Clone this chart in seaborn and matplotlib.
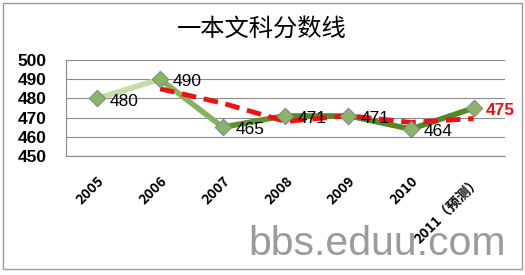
import matplotlib
matplotlib.use("Agg")
import matplotlib.pyplot as plt
import seaborn as sns
import pandas as pd
import numpy as np
from matplotlib.patches import Rectangle

years = ["2005", "2006", "2007", "2008", "2009", "2010", "2011（预测）"]
scores = [480, 490, 465, 471, 471, 464, 475]
trend = [np.nan, 485, 477.5, 468, 471, 467.5, 469.5]
yticks = [450, 460, 470, 480, 490, 500]
title = "一本文科分数线"
watermark = "bbs.eduu.com"

sns.set_theme(style="white")
plt.rcParams['font.family'] = ['Noto Sans CJK SC', 'DejaVu Sans']

df = pd.DataFrame({"year": years, "score": scores, "trend": trend})
df["x"] = np.arange(len(years))

fig = plt.figure(figsize=(5.25, 2.75), dpi=100)
fig.patch.set_facecolor("white")
# chart border
fig.patches.append(Rectangle((3/525, 1 - 269/275), (522-3)/525, (269-3)/275,
                             transform=fig.transFigure, fill=False,
                             edgecolor="#9a9a9a", linewidth=1.0))

ax = fig.add_axes([66/525, 1 - 156/275, (505-66)/525, (156-60)/275])

# segment colours (light to dark green)
seg_colors = ["#c6dba6", "#86b260", "#5a9434", "#4f8a2a", "#4f8a2a", "#4f8a2a"]
for i in range(len(years) - 1):
    seg = df.iloc[i:i+2]
    sns.lineplot(data=seg, x="x", y="score", ax=ax, color=seg_colors[i],
                 linewidth=4, legend=False, zorder=2)

sns.lineplot(data=df.dropna(), x="x", y="trend", ax=ax, color="#ee1111",
             linewidth=3.5, linestyle=(0, (3, 1.6)), legend=False, zorder=3)

sns.scatterplot(data=df, x="x", y="score", ax=ax, marker="D", s=70,
                color="#8db36a", edgecolor="#7f8f78", linewidth=0.8,
                zorder=4, legend=False)

for i, (xv, yv) in enumerate(zip(df["x"], df["score"])):
    last = i == len(years) - 1
    ax.annotate(str(yv), (xv, yv), xytext=(9, -2), textcoords="offset points",
                ha="left", va="center", fontsize=12.5,
                color="#ee1111" if last else "black",
                family=["Liberation Sans", "DejaVu Sans"],
                fontweight="bold" if last else "normal", zorder=5)

ax.set_xlim(-0.5, len(years) - 0.5)
ax.set_ylim(450, 500)
ax.set_yticks(yticks)
ax.set_yticklabels([str(t) for t in yticks], fontsize=12.5, fontweight="bold",
                   family=["Liberation Sans", "DejaVu Sans"], color="black")
ax.set_xticks(df["x"])
ax.set_xticklabels(years, rotation=45, ha="right", rotation_mode="anchor",
                   fontsize=10, fontweight="bold", color="black")
ax.set_xticks(np.arange(-0.5, len(years)), minor=True)
ax.tick_params(axis="x", which="major", length=0, pad=13)
ax.tick_params(axis="x", which="minor", length=4, color="#888888", direction="out")
ax.tick_params(axis="y", length=5, color="#888888", pad=9, direction="out")
ax.yaxis.grid(True, color="#8c8c8c", linewidth=0.8)
ax.set_axisbelow(True)
for s in ["top", "right"]:
    ax.spines[s].set_visible(False)
for s in ["left", "bottom"]:
    ax.spines[s].set_color("#888888")
    ax.spines[s].set_linewidth(0.8)
ax.set_xlabel("")
ax.set_ylabel("")

fig.text(262/525, 1 - 29/275, title, ha="center", va="center", fontsize=17.5,
         color="black")
fig.text(506/525, 1 - 244/275, watermark, ha="right", va="center",
         fontsize=29.5, color="#8a8a8a", alpha=0.85,
         family=["Liberation Sans", "DejaVu Sans"])

fig.savefig("out.png", dpi=100, facecolor="white")
